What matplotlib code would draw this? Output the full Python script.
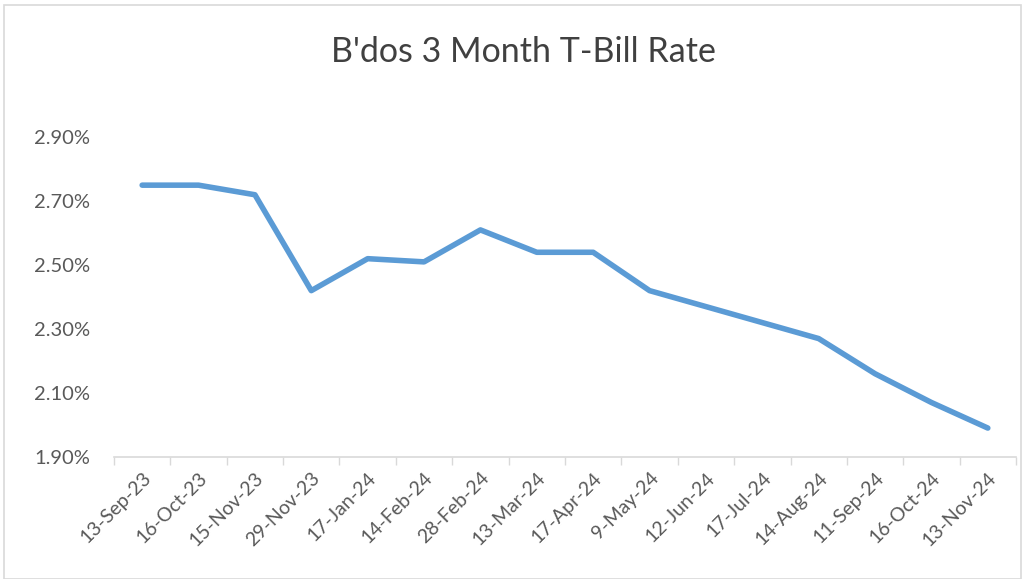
import matplotlib
matplotlib.use("Agg")
import matplotlib.pyplot as plt
from matplotlib.ticker import FuncFormatter, FixedLocator
from matplotlib.patches import Rectangle

dates = ["13-Sep-23", "16-Oct-23", "15-Nov-23", "29-Nov-23", "17-Jan-24", "14-Feb-24",
         "28-Feb-24", "13-Mar-24", "17-Apr-24", "9-May-24", "12-Jun-24", "17-Jul-24",
         "14-Aug-24", "11-Sep-24", "16-Oct-24", "13-Nov-24"]
rates = [2.75, 2.75, 2.72, 2.42, 2.52, 2.51, 2.61, 2.54, 2.54, 2.42, 2.37, 2.32,
         2.27, 2.16, 2.07, 1.99]
yticks = [1.90, 2.10, 2.30, 2.50, 2.70, 2.90]

plt.rcParams['font.family'] = ['Lato', 'DejaVu Sans']

fig = plt.figure(figsize=(10.24, 5.79), dpi=100)
ax = fig.add_axes([0.1113, 0.211, 0.8809, 0.552])

x = list(range(len(dates)))
ax.plot(x, rates, color="#5B9BD5", lw=4.0, solid_capstyle="round", solid_joinstyle="round")

ax.set_xlim(-0.5, len(dates) - 0.5)
ax.set_ylim(1.90, 2.90)
ax.set_yticks(yticks)
ax.yaxis.set_major_formatter(FuncFormatter(lambda v, p: f"{v:.2f}%"))

ax.set_xticks(x)
ax.set_xticklabels(dates, rotation=45, ha="right", rotation_mode="anchor")
ax.xaxis.set_minor_locator(FixedLocator([i - 0.5 for i in range(len(dates) + 1)]))
ax.tick_params(axis="x", which="major", length=0, pad=9, labelsize=14, colors="#595959")
ax.tick_params(axis="x", which="minor", length=6, width=1, color="#D9D9D9")
ax.tick_params(axis="y", length=0, pad=17, labelsize=14.5, colors="#595959")

for s in ["top", "right", "left"]:
    ax.spines[s].set_visible(False)
ax.spines["bottom"].set_color("#D9D9D9")
ax.spines["bottom"].set_linewidth(1.2)

fig.text(0.511, 0.91, "B'dos 3 Month T-Bill Rate", ha="center", va="center",
         fontsize=24.5, color="#404040")

fig.patches.append(Rectangle((0.004, 0.0), 0.993, 0.991, transform=fig.transFigure,
                             fill=False, edgecolor="#D9D9D9", lw=1.2))

fig.savefig("out.png", dpi=100)
